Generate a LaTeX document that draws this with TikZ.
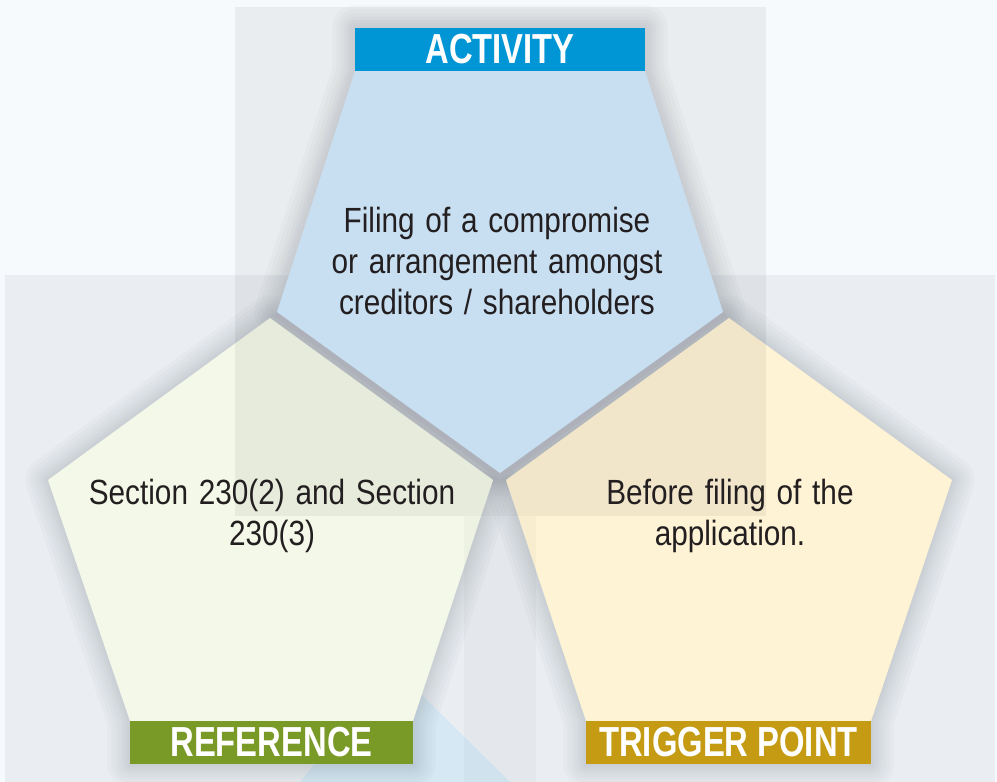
\documentclass[tikz,border=0pt]{standalone}
\usepackage{fontspec}
\setmainfont{Liberation Sans}
\newfontfamily\bodyfont[FakeStretch=0.85, WordSpace=1.3]{Liberation Sans}
\newfontfamily\barfont[FakeStretch=0.78]{Liberation Sans}

\definecolor{bgwhite}{RGB}{247,250,252}
\definecolor{panelgray}{RGB}{234,238,242}
\definecolor{shadowgray}{RGB}{130,136,148}
\definecolor{gapgray}{RGB}{184,187,195}
\definecolor{swooshblue}{RGB}{200,228,244}
\definecolor{activityfill}{RGB}{211,236,255}
\definecolor{referencefill}{RGB}{244,248,232}
\definecolor{triggerfill}{RGB}{254,243,213}
\definecolor{activityblue}{RGB}{0,150,214}
\definecolor{referencegreen}{RGB}{122,154,40}
\definecolor{triggergold}{RGB}{196,155,18}
\definecolor{textdark}{RGB}{35,31,32}

\tikzset{every picture/.style={line width=0.75pt}}
\tikzset{
  softshadow/.style={draw=shadowgray, line join=round, opacity=0.045},
  labelbar/.style={minimum height=32.25pt, inner sep=0pt, text=white,
    font=\barfont\bfseries\fontsize{31.5}{31.5}\selectfont},
  bodytext/.style={align=center, inner sep=0pt, text=textdark,
    font=\bodyfont\fontsize{26.25}{30.75}\selectfont}
}

\begin{document}
\begin{tikzpicture}[x=0.75pt,y=0.75pt,yscale=-1,xscale=1]
\useasboundingbox (0,0) rectangle (997,782);

%Shape: Background
\fill [bgwhite] (0,0) rectangle (997,782);
\fill [panelgray] (5,275) rectangle (995,782);
\fill [swooshblue, opacity=0.6] (300,782) .. controls (340,730) and (380,695) .. (420,693) -- (510,782) -- cycle;

% corners of the three pentagons
\coordinate (act1) at (355,71);
\coordinate (act2) at (645,71);
\coordinate (act3) at (723,312);
\coordinate (act4) at (500,473);
\coordinate (act5) at (277,312);
\coordinate (ref1) at (270,318);
\coordinate (ref2) at (493,480);
\coordinate (ref3) at (413,721);
\coordinate (ref4) at (130,721);
\coordinate (ref5) at (48,480);
\coordinate (trg1) at (729,318);
\coordinate (trg2) at (952,480);
\coordinate (trg3) at (871,721);
\coordinate (trg4) at (586,721);
\coordinate (trg5) at (506,480);

%Shape: Shadows
\foreach \w in {34,28,22,17,12,8,4}{
  \draw [softshadow, line width=\w pt] (355,28) -- (645,28) -- (act2) -- (act3) -- (act4) -- (act5) -- (act1) -- cycle;
  \draw [softshadow, line width=\w pt] (ref1) -- (ref2) -- (ref3) -- (ref3 |- 0,764) -- (ref4 |- 0,764) -- (ref4) -- (ref5) -- cycle;
  \draw [softshadow, line width=\w pt] (trg1) -- (trg2) -- (trg3) -- (trg3 |- 0,764) -- (trg4 |- 0,764) -- (trg4) -- (trg5) -- cycle;
}
\draw [gapgray, line width=8pt] (act5) -- (act4) -- (act3);

%Shape: Pentagons
\fill [referencefill] (ref1) -- (ref2) -- (ref3) -- (ref4) -- (ref5) -- cycle;
\fill [triggerfill] (trg1) -- (trg2) -- (trg3) -- (trg4) -- (trg5) -- cycle;
\fill [activityfill] (act1) -- (act2) -- (act3) -- (act4) -- (act5) -- cycle;

%Shape: Overlay panels
\fill [black, opacity=0.05] (235,7) rectangle (766,516);
\fill [black, opacity=0.025] (464,516) rectangle (536,782);

% Label Nodes
\node [labelbar, minimum width=217.5pt, fill=activityblue] (activitybar) at (500,49.5) {ACTIVITY};
\node [labelbar, minimum width=212.25pt, fill=referencegreen] (referencebar) at (271.5,742.5) {REFERENCE};
\node [labelbar, minimum width=213.75pt, fill=triggergold] (triggerbar) at (728.5,742.5) {TRIGGER POINT};

% Text Node
\node [bodytext] (activitytext) at (497,261) {Filing of a compromise\\or arrangement amongst\\creditors / shareholders};
% Text Node
\node [bodytext] (referencetext) at (272,516) {Section 230(2) and Section\\230(3)};
% Text Node
\node [bodytext] (triggertext) at (730,516) {Before filing of the\\application.};

\end{tikzpicture}
\end{document}
